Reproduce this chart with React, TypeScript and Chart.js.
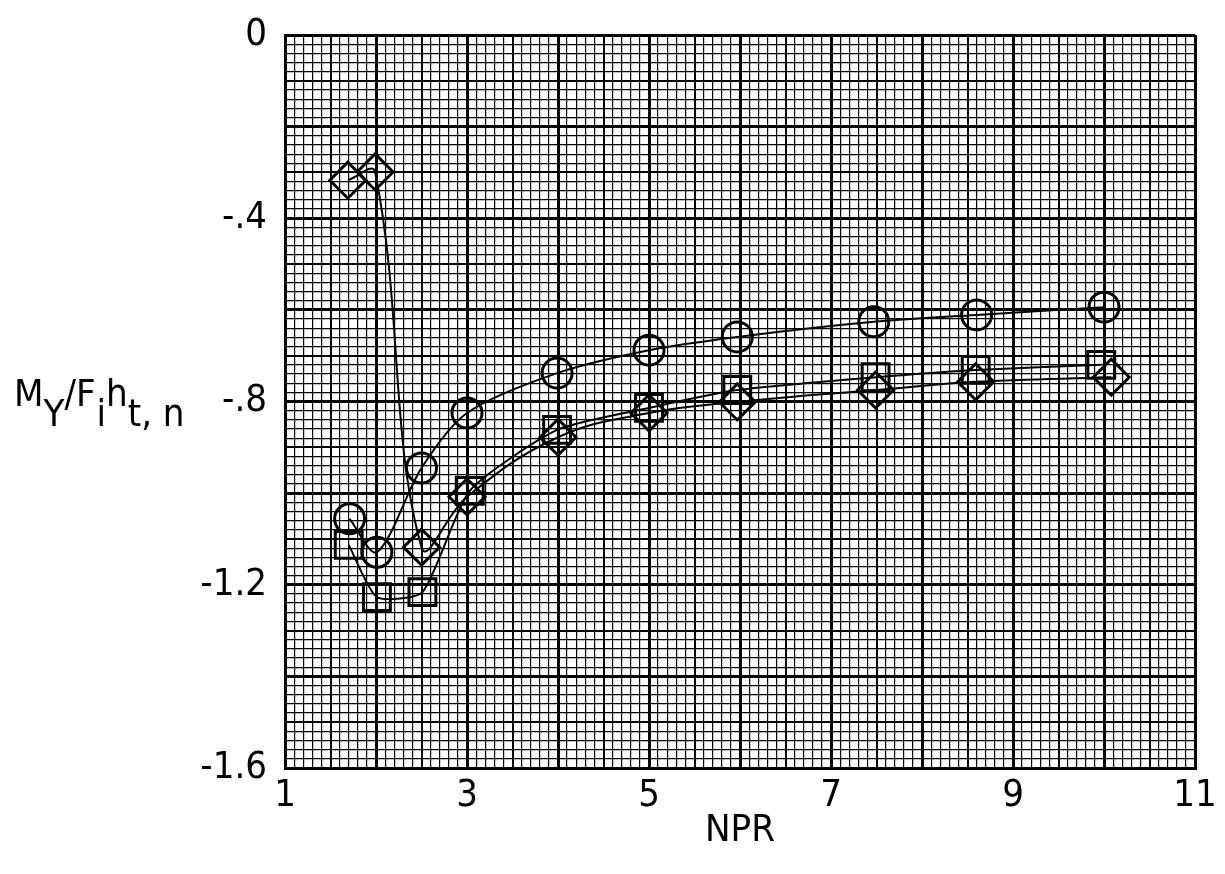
import React, { useEffect, useRef } from 'react';
import { Chart, registerables } from 'chart.js';
Chart.register(...registerables);

const NPR_CIRCLE = [1.71, 2.01, 2.5, 3.0, 3.99, 5.0, 5.97, 7.47, 8.6, 10.0];
const MY_CIRCLE = [-1.056, -1.129, -0.945, -0.825, -0.738, -0.688, -0.659, -0.626, -0.611, -0.594];
const NPR_SQUARE = [1.7, 2.01, 2.51, 3.03, 3.99, 5.0, 5.97, 7.49, 8.59, 9.97];
const MY_SQUARE = [-1.113, -1.227, -1.216, -0.995, -0.862, -0.814, -0.775, -0.747, -0.731, -0.72];
const NPR_DIAMOND = [1.69, 1.99, 2.5, 3.0, 4.0, 5.0, 5.97, 7.49, 8.59, 10.08];
const MY_DIAMOND = [-0.317, -0.299, -1.118, -1.008, -0.878, -0.825, -0.801, -0.775, -0.757, -0.747];

const X_TICK_LABELS = [1, 3, 5, 7, 9, 11];
const Y_TICK_LABELS = [0, -0.4, -0.8, -1.2, -1.6];

const FONT = "'DejaVu Sans Condensed', 'DejaVu Sans', sans-serif";

function fmtY(v: number): string {
  if (v === 0) return '0';
  const s = Math.abs(v).toFixed(1);
  return '-' + (s.startsWith('0') ? s.slice(1) : s);
}

function pts(xs: number[], ys: number[]) {
  return xs.map((x, i) => ({ x, y: ys[i] }));
}

export default function App() {
  const ref = useRef<HTMLCanvasElement | null>(null);
  useEffect(() => {
    if (!ref.current) return;
    const common = {
      borderColor: '#000',
      backgroundColor: 'rgba(0,0,0,0)',
      pointBorderColor: '#000',
      pointBackgroundColor: 'rgba(0,0,0,0)',
      borderWidth: 2,
      pointBorderWidth: 3,
      showLine: true,
      tension: 0.3,
    };
    const chart = new Chart(ref.current, {
      type: 'scatter',
      data: {
        datasets: [
          { ...common, label: 'circle', data: pts(NPR_CIRCLE, MY_CIRCLE), pointStyle: 'circle', pointRadius: 15 },
          { ...common, label: 'square', data: pts(NPR_SQUARE, MY_SQUARE), pointStyle: 'rect', pointRadius: 19, tension: 0.2 },
          { ...common, label: 'diamond', data: pts(NPR_DIAMOND, MY_DIAMOND), pointStyle: 'rectRot', pointRadius: 18, tension: 0.4 },
        ],
      },
      options: {
        animation: false,
        responsive: false,
        layout: { padding: { top: 27, right: 20, left: 0, bottom: 0 } },
        plugins: { legend: { display: false }, tooltip: { enabled: false } },
        scales: {
          x: {
            type: 'linear',
            min: 1,
            max: 11,
            afterFit: (s: any) => { s.height = 98; s.paddingLeft = 0; s.paddingRight = 0; },
            border: { display: true, color: '#000', width: 3 },
            grid: {
              drawTicks: false,
              color: '#000',
              lineWidth: (ctx: any) => {
                const k = Math.round((ctx.tick?.value ?? 0) * 10);
                if (k % 10 === 0) return 3;
                if (k % 5 === 0) return 2;
                return 1.2;
              },
            },
            ticks: {
              stepSize: 0.1,
              autoSkip: false,
              maxRotation: 0,
              padding: 5,
              color: '#000',
              font: { family: FONT, size: 38 },
              callback: (v: any) => {
                const n = Number(v);
                const hit = X_TICK_LABELS.find((t) => Math.abs(t - n) < 1e-6);
                return hit !== undefined ? String(hit) : '';
              },
            },
            title: {
              display: true,
              text: 'NPR',
              color: '#000',
              font: { family: FONT, size: 38 },
              padding: { top: 0, bottom: 12 },
            },
          },
          y: {
            type: 'linear',
            min: -1.6,
            max: 0,
            afterFit: (s: any) => { s.width = 277; s.paddingTop = 0; s.paddingBottom = 0; },
            border: { display: true, color: '#000', width: 3 },
            grid: {
              drawTicks: false,
              color: '#000',
              lineWidth: (ctx: any) => {
                const k = Math.round(Math.abs(ctx.tick?.value ?? 0) * 50);
                if (k % 10 === 0) return 3;
                if (k % 5 === 0) return 2;
                return 1.2;
              },
            },
            ticks: {
              stepSize: 0.02,
              autoSkip: false,
              padding: 18,
              color: '#000',
              font: { family: FONT, size: 38 },
              callback: (v: any) => {
                const n = Number(v);
                const hit = Y_TICK_LABELS.find((t) => Math.abs(t - n) < 1e-6);
                return hit !== undefined ? fmtY(hit) : '';
              },
            },
          },
        },
      },
    } as any);
    return () => chart.destroy();
  }, []);

  const sub: React.CSSProperties = { position: 'relative', top: 20 };
  return (
    <div style={{ position: 'relative', width: 1209, height: 858 }}>
      <canvas ref={ref} width={1209} height={858} />
      <div
        style={{
          position: 'absolute',
          left: 6,
          top: 366,
          fontFamily: FONT,
          fontSize: 38,
          lineHeight: 1,
          color: '#000',
          whiteSpace: 'nowrap',
        }}
      >
        M<span style={sub}>Y</span>/F<span style={{ ...sub, marginLeft: 1 }}>i</span>h<span style={sub}>t, n</span>
      </div>
    </div>
  );
}
